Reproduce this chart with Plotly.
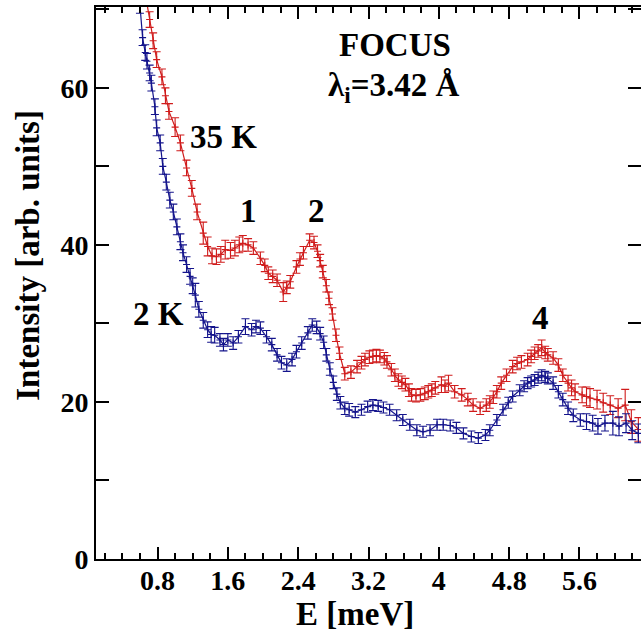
import plotly.graph_objects as go

# 35 K data (red)
e_35k = [0.66, 0.71, 0.75, 0.79, 0.85, 0.89, 0.93, 1.00, 1.06, 1.13, 1.19, 1.25, 1.32, 1.37, 1.42,
         1.47, 1.52, 1.57, 1.63, 1.68, 1.73, 1.77, 1.83, 1.89, 1.97, 2.02, 2.06, 2.11, 2.16, 2.23,
         2.27, 2.31, 2.38, 2.42, 2.46, 2.53, 2.58, 2.62, 2.65, 2.68, 2.72, 2.75, 2.79, 2.83, 2.87,
         2.93, 3.00, 3.07, 3.12, 3.16, 3.21, 3.25, 3.29, 3.33, 3.38, 3.41, 3.46, 3.50, 3.54, 3.58,
         3.62, 3.66, 3.69, 3.74, 3.79, 3.84, 3.88, 3.92, 3.96, 4.03, 4.07, 4.11, 4.18, 4.26, 4.33,
         4.39, 4.47, 4.54, 4.58, 4.62, 4.66, 4.71, 4.77, 4.84, 4.89, 4.94, 5.01, 5.05, 5.09, 5.13,
         5.17, 5.21, 5.24, 5.30, 5.36, 5.41, 5.47, 5.51, 5.55, 5.63, 5.68, 5.72, 5.80, 5.87, 5.95,
         6.04, 6.12, 6.19, 6.27]
i_35k = [72.0, 68.7, 66.0, 63.6, 61.4, 59.0, 57.0, 55.0, 53.0, 49.8, 47.2, 44.2, 41.5, 39.8, 38.6,
         38.5, 38.8, 39.4, 39.3, 39.6, 40.0, 40.2, 40.0, 39.6, 38.3, 37.4, 36.4, 36.0, 35.5, 34.0,
         34.6, 35.3, 37.2, 38.2, 39.0, 40.6, 40.3, 39.2, 38.0, 36.6, 34.8, 33.2, 31.2, 28.5, 26.2,
         23.6, 23.8, 24.5, 25.0, 25.4, 25.7, 25.8, 25.9, 25.8, 25.5, 25.1, 24.1, 23.4, 22.8, 22.5,
         22.2, 21.5, 20.9, 20.8, 20.9, 21.1, 21.3, 21.5, 21.8, 22.2, 22.0, 22.4, 21.3, 20.9, 20.3,
         19.6, 19.2, 19.6, 20.0, 20.6, 21.3, 22.4, 23.4, 24.5, 24.9, 25.1, 25.4, 25.8, 26.2, 26.5,
         26.9, 26.3, 26.0, 25.6, 24.7, 23.4, 22.4, 21.8, 21.3, 20.9, 20.7, 20.5, 20.3, 19.9, 19.6,
         19.2, 19.6, 17.5, 16.5]
err_35k = [1.0, 1.0, 1.0, 1.0, 1.0, 1.0, 1.0, 1.2, 1.0, 1.0, 1.0, 1.0, 1.4, 1.2, 1.0,
           1.0, 1.0, 1.2, 1.0, 1.0, 1.0, 1.0, 0.8, 0.8, 0.8, 0.8, 0.8, 0.8, 0.8, 1.2,
           0.8, 0.8, 0.8, 0.8, 0.8, 0.8, 0.8, 0.8, 0.8, 0.8, 0.8, 0.8, 0.8, 0.8, 0.8,
           0.8, 0.8, 0.8, 0.8, 0.8, 0.8, 0.8, 0.8, 0.8, 0.8, 0.8, 0.8, 0.8, 0.8, 0.8,
           0.8, 0.8, 0.8, 0.8, 0.8, 0.8, 0.8, 0.8, 0.8, 1.0, 0.8, 1.0, 0.8, 0.8, 0.8,
           0.8, 0.8, 0.8, 0.8, 0.8, 0.8, 0.8, 0.8, 0.8, 0.8, 0.8, 0.8, 0.8, 0.8, 0.8,
           1.0, 0.8, 0.8, 0.8, 0.8, 0.8, 1.0, 1.0, 1.0, 1.0, 1.2, 1.2, 1.2, 1.2, 1.2,
           1.2, 2.0, 1.5, 1.5]

# 2 K data (blue)
e_2k = [0.60, 0.63, 0.66, 0.68, 0.71, 0.73, 0.77, 0.79, 0.83, 0.86, 0.90, 0.94, 0.98, 1.02, 1.06,
        1.09, 1.13, 1.17, 1.20, 1.23, 1.27, 1.32, 1.37, 1.41, 1.45, 1.51, 1.55, 1.60, 1.66, 1.72,
        1.80, 1.87, 1.92, 1.97, 2.04, 2.10, 2.16, 2.21, 2.27, 2.33, 2.38, 2.44, 2.51, 2.56, 2.61,
        2.65, 2.69, 2.72, 2.76, 2.80, 2.84, 2.88, 2.93, 2.98, 3.05, 3.12, 3.19, 3.25, 3.31, 3.37,
        3.44, 3.52, 3.59, 3.67, 3.75, 3.82, 3.90, 3.98, 4.05, 4.13, 4.20, 4.28, 4.37, 4.45, 4.53,
        4.58, 4.66, 4.73, 4.79, 4.84, 4.92, 4.97, 5.01, 5.05, 5.09, 5.13, 5.17, 5.21, 5.24, 5.30,
        5.36, 5.41, 5.47, 5.53, 5.61, 5.68, 5.75, 5.81, 5.89, 5.98, 6.05, 6.13, 6.20, 6.27]
i_2k = [70.5, 66.4, 64.5, 63.4, 61.9, 60.6, 57.6, 54.9, 53.0, 50.0, 48.0, 45.7, 44.2, 42.3, 40.4,
        39.0, 37.5, 36.0, 34.8, 33.6, 31.8, 30.4, 29.2, 28.6, 28.5, 27.9, 27.3, 27.9, 27.5, 28.3,
        29.6, 29.2, 29.6, 29.4, 28.3, 27.3, 26.0, 25.0, 24.7, 25.4, 26.4, 27.5, 28.8, 29.8, 29.5,
        28.7, 27.6, 26.0, 24.2, 22.5, 21.0, 19.9, 19.2, 19.0, 18.7, 19.0, 19.4, 19.6, 19.5, 19.3,
        19.0, 18.3, 17.7, 17.1, 16.4, 16.2, 16.4, 17.1, 17.1, 17.0, 16.7, 16.0, 15.6, 15.4, 15.8,
        16.4, 17.7, 19.0, 19.9, 20.7, 21.5, 22.0, 22.4, 22.6, 22.8, 23.1, 23.4, 23.2, 23.0, 22.4,
        21.3, 20.3, 19.2, 18.3, 17.7, 17.5, 17.3, 16.9, 17.3, 17.3, 16.9, 17.3, 16.4, 16.0]
err_2k = [1.0, 1.0, 1.0, 1.0, 1.0, 1.0, 1.0, 1.0, 1.0, 1.0, 1.0, 1.0, 1.0, 1.0, 1.0,
          1.0, 1.0, 1.0, 1.0, 1.5, 1.0, 1.0, 1.0, 1.0, 1.0, 0.8, 0.8, 0.8, 0.8, 0.8,
          1.0, 0.8, 0.8, 0.8, 0.8, 0.8, 0.8, 0.8, 0.8, 0.8, 0.8, 0.8, 0.8, 0.8, 0.8,
          0.8, 0.8, 0.8, 0.8, 0.8, 0.8, 0.8, 0.8, 0.8, 0.7, 0.7, 0.7, 0.7, 0.7, 0.7,
          0.7, 0.7, 0.7, 0.7, 0.7, 0.7, 0.7, 0.7, 0.7, 0.7, 0.7, 0.7, 0.7, 0.7, 0.7,
          0.7, 0.7, 0.7, 0.7, 0.7, 0.7, 0.7, 0.7, 0.7, 0.7, 0.7, 0.7, 0.7, 0.7, 0.8,
          0.8, 0.8, 0.8, 0.8, 0.8, 1.0, 1.0, 1.0, 1.0, 1.5, 1.2, 1.2, 1.2, 1.2]

x_ticks = [0.8, 1.6, 2.4, 3.2, 4.0, 4.8, 5.6]
x_ticklabels = ["0.8", "1.6", "2.4", "3.2", "4", "4.8", "5.6"]
y_ticks = [0, 20, 40, 60]
y_ticklabels = ["0", "20", "40", "60"]

RED = "#d01c1c"
BLUE = "#14148c"
FONT = "Liberation Serif"

fig = go.Figure()
for e, i, err, col in [(e_35k, i_35k, err_35k, RED), (e_2k, i_2k, err_2k, BLUE)]:
    fig.add_trace(go.Scatter(
        x=e, y=i, mode="lines+markers",
        line=dict(color=col, width=1.2),
        marker=dict(symbol="cross-thin", size=5, line=dict(color=col, width=1.1)),
        error_y=dict(type="data", array=err, visible=True, color=col, thickness=1.1, width=4),
        showlegend=False, cliponaxis=True,
    ))

# invisible trace to carry the right-hand tick axis
fig.add_trace(go.Scatter(x=[None], y=[None], yaxis="y2", showlegend=False, hoverinfo="skip"))

ann_font = dict(family=FONT, size=33, color="black", weight="bold")
annotations = [
    dict(x=3.50, y=65.4, text="FOCUS"),
    dict(x=3.49, y=60.0, text="λ<sub>i</sub>=3.42 Å"),
    dict(x=1.55, y=53.8, text="35 K"),
    dict(x=1.83, y=44.3, text="1"),
    dict(x=2.61, y=44.3, text="2"),
    dict(x=5.16, y=30.7, text="4"),
    dict(x=0.81, y=31.2, text="2 K"),
]
for a in annotations:
    fig.add_annotation(xref="x", yref="y", showarrow=False, font=ann_font,
                       xanchor="center", yanchor="middle", **a)

# axis titles
fig.add_annotation(xref="paper", yref="paper", x=0.475, y=-0.1, showarrow=False,
                   text="E [meV]", font=dict(family=FONT, size=33, color="black", weight="bold"),
                   xanchor="center", yanchor="middle")
fig.add_annotation(xref="paper", yref="paper", x=-0.125, y=0.551, showarrow=False,
                   text="Intensity [arb. units]", textangle=-90,
                   font=dict(family=FONT, size=33, color="black", weight="bold"),
                   xanchor="center", yanchor="middle")

fig.update_layout(
    width=641, height=639,
    margin=dict(l=96, r=0, t=7, b=80),
    paper_bgcolor="white", plot_bgcolor="white",
    font=dict(family=FONT, color="black"),
    xaxis=dict(range=[0.1, 6.3], tickvals=x_ticks, ticktext=x_ticklabels,
               ticks="inside", ticklen=12, tickwidth=1.5, tickcolor="black",
               minor=dict(dtick=0.2, tick0=0, ticks="inside", ticklen=6, tickwidth=1.5, tickcolor="black"),
               showline=True, linewidth=2, linecolor="black", mirror="ticks",
               showgrid=False, zeroline=False, ticklabelstandoff=-5,
               tickfont=dict(family=FONT, size=28, color="black", weight="bold")),
    yaxis=dict(range=[0, 70.3], tickvals=y_ticks, ticktext=y_ticklabels,
               ticks="inside", ticklen=13, tickwidth=1.5, tickcolor="black",
               minor=dict(dtick=10, tick0=0, ticks="inside", ticklen=13, tickwidth=1.5, tickcolor="black"),
               showline=True, linewidth=2, linecolor="black", mirror=False,
               showgrid=False, zeroline=False,
               tickfont=dict(family=FONT, size=28, color="black", weight="bold")),
    yaxis2=dict(range=[0, 70.3], overlaying="y", side="right", dtick=10, tick0=0,
                showticklabels=False, ticks="inside", ticklen=13, tickwidth=1.5,
                tickcolor="black", showline=False, showgrid=False, zeroline=False),
)

fig.write_html("out.html")
